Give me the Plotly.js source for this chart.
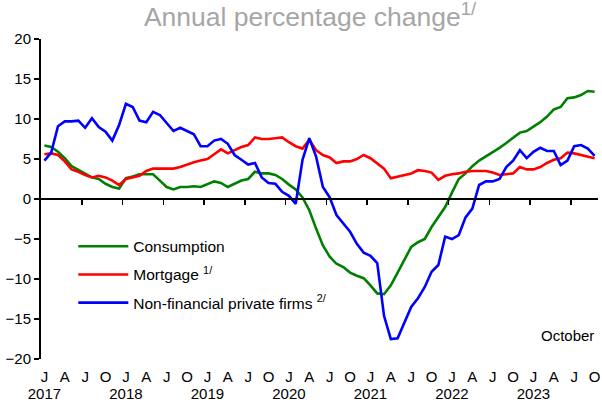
<!DOCTYPE html>
<html>
<head>
<meta charset="utf-8">
<script src="https://cdn.plot.ly/plotly-3.0.1.min.js"></script>
<style>html,body{margin:0;padding:0;background:#fff;}#chart{width:602px;height:402px;}</style>
</head>
<body>
<div id="chart"></div>
<script>
// Monthly data, January 2017 to October 2023 (annual % change)
const startYear = 2017;
const consumption = [6.7,6.5,5.9,5.1,4.1,3.6,3.1,2.7,2.5,1.9,1.5,1.3,
  2.6,2.8,3.1,3.1,3.1,2.3,1.5,1.2,1.5,1.5,1.6,1.5,
  1.9,2.2,2.0,1.5,1.9,2.3,2.5,3.4,3.2,3.2,3.0,2.5,
  1.8,1.2,0.2,-1.4,-3.7,-5.8,-7.2,-8.1,-8.5,-9.2,-9.6,-9.9,
  -10.8,-11.8,-11.9,-10.8,-9.2,-7.6,-6.0,-5.4,-5.0,-3.5,-2.3,-1.0,
  0.8,2.5,3.2,4.1,4.8,5.3,5.8,6.4,7.0,7.6,8.3,8.5,
  9.0,9.6,10.3,11.2,11.5,12.6,12.7,13.0,13.5,13.4];
const mortgage = [5.6,5.7,5.5,4.7,3.7,3.4,3.0,2.7,2.9,2.7,2.3,1.75,
  2.5,2.7,2.9,3.5,3.8,3.8,3.8,3.8,4.0,4.3,4.6,4.8,
  5.0,5.6,6.2,5.7,6.1,6.5,6.75,7.7,7.5,7.5,7.6,7.7,
  7.1,6.6,6.3,7.4,6.1,5.5,5.2,4.5,4.7,4.7,5.0,5.5,
  5.1,4.5,3.8,2.6,2.8,3.0,3.2,3.6,3.5,3.3,2.4,2.9,
  3.1,3.2,3.4,3.5,3.5,3.5,3.3,3.0,3.1,3.2,4.0,3.7,
  3.7,4.0,4.5,4.9,5.1,5.8,5.7,5.5,5.3,5.1];
const firms = [4.8,5.8,9.1,9.7,9.7,9.8,8.9,10.1,9.0,8.4,7.3,9.25,
  11.9,11.5,9.8,9.6,10.9,10.5,9.5,8.5,8.9,8.5,8.1,6.6,
  6.6,7.3,7.5,6.9,5.5,4.9,4.3,4.5,2.7,2.0,1.9,0.9,
  0.4,-0.6,4.9,7.6,5.3,1.5,0.2,-2.0,-3.1,-4.1,-5.6,-6.7,
  -7.1,-8.0,-14.6,-17.5,-17.4,-15.5,-13.5,-12.4,-11.0,-9.1,-8.25,-4.7,
  -5.0,-4.5,-2.3,-1.2,1.75,2.2,2.2,2.5,4.0,4.8,6.1,5.1,
  5.9,6.4,6.0,6.0,4.25,4.8,6.6,6.75,6.3,5.4];
const quarterLetters = ['J','A','J','O'];
const seriesNames = ['Consumption','Mortgage <sup>1/</sup>','Non-financial private firms <sup>2/</sup>'];
const seriesColors = ['#008000','#ff0000','#0000ff'];

const n = consumption.length;
const xIdx = Array.from({length:n},(_,i)=>i);
const qVals = [], qText = [], yVals = [], yText = [];
for (let i=0;i<n;i+=3){
  const q = (i/3)%4;
  qVals.push(i); qText.push(quarterLetters[q]);
  if (q===0){ yVals.push(i); yText.push(String(startYear+i/12)); }
}
const halfYearTicks = [];
for (let i=5.5;i<n;i+=6) halfYearTicks.push(i);

const font = 'Liberation Sans, Arial, sans-serif';
const seriesData = [consumption, mortgage, firms];
const traces = seriesData.map((d,k)=>({
  x:xIdx, y:d, type:'scatter', mode:'lines', name:seriesNames[k],
  line:{color:seriesColors[k], width:2.6}, legendgroup:'g'+k, hoverinfo:'skip'
}));
['x2','x3'].forEach(ax=>traces.push({x:[null], y:[null], xaxis:ax, yaxis:'y', type:'scatter', mode:'lines', showlegend:false, hoverinfo:'skip'}));

const range = [-0.5, n-0.5];
const layout = {
  width:602, height:402,
  margin:{l:41, r:4, t:39, b:43},
  paper_bgcolor:'#fff', plot_bgcolor:'#fff',
  font:{family:font, size:15, color:'#000'},
  showlegend:true,
  title:{text:'Annual percentage change<sup>1/</sup>', font:{family:font, size:26.5, color:'#a6a6a6'},
    x:0.515, xref:'container', xanchor:'center', y:1-17/402, yref:'container', yanchor:'middle', pad:{t:0,b:0}},
  xaxis:{range:range, showline:false, showgrid:false, zeroline:false, ticks:'',
    tickmode:'array', tickvals:qVals, ticktext:qText, tickangle:0,
    ticklabelstandoff:7, automargin:false, tickfont:{size:15}},
  xaxis3:{range:range, overlaying:'x', anchor:'y', side:'bottom', showline:false, showgrid:false, zeroline:false, ticks:'',
    tickmode:'array', tickvals:yVals, ticktext:yText, tickangle:0,
    ticklabelstandoff:24, automargin:false, tickfont:{size:15}},
  xaxis2:{range:range, overlaying:'x', anchor:'free', position:0.5, showline:true, linecolor:'#000', linewidth:2,
    ticks:'outside', ticklen:5, tickwidth:1.5, tickcolor:'#000', tickmode:'array', tickvals:halfYearTicks,
    showticklabels:false, showgrid:false, zeroline:false},
  yaxis:{range:[-20,20], dtick:5, tick0:0, showline:true, linecolor:'#000', linewidth:2, ticks:'outside',
    ticklen:5, tickwidth:1.5, tickcolor:'#000', showgrid:false, zeroline:false, automargin:false, tickfont:{size:15}},
  legend:{x:0.058, y:0.404, xanchor:'left', yanchor:'top', bgcolor:'rgba(0,0,0,0)', font:{size:15.5},
    traceorder:'grouped', tracegroupgap:5, itemwidth:50},
  annotations:[{text:'October', xref:'paper', yref:'paper', x:0.946, y:0.075, showarrow:false,
    xanchor:'center', yanchor:'middle', font:{size:15}}]
};
Plotly.newPlot('chart', traces, layout, {staticPlot:true, displayModeBar:false});
</script>
</body>
</html>
